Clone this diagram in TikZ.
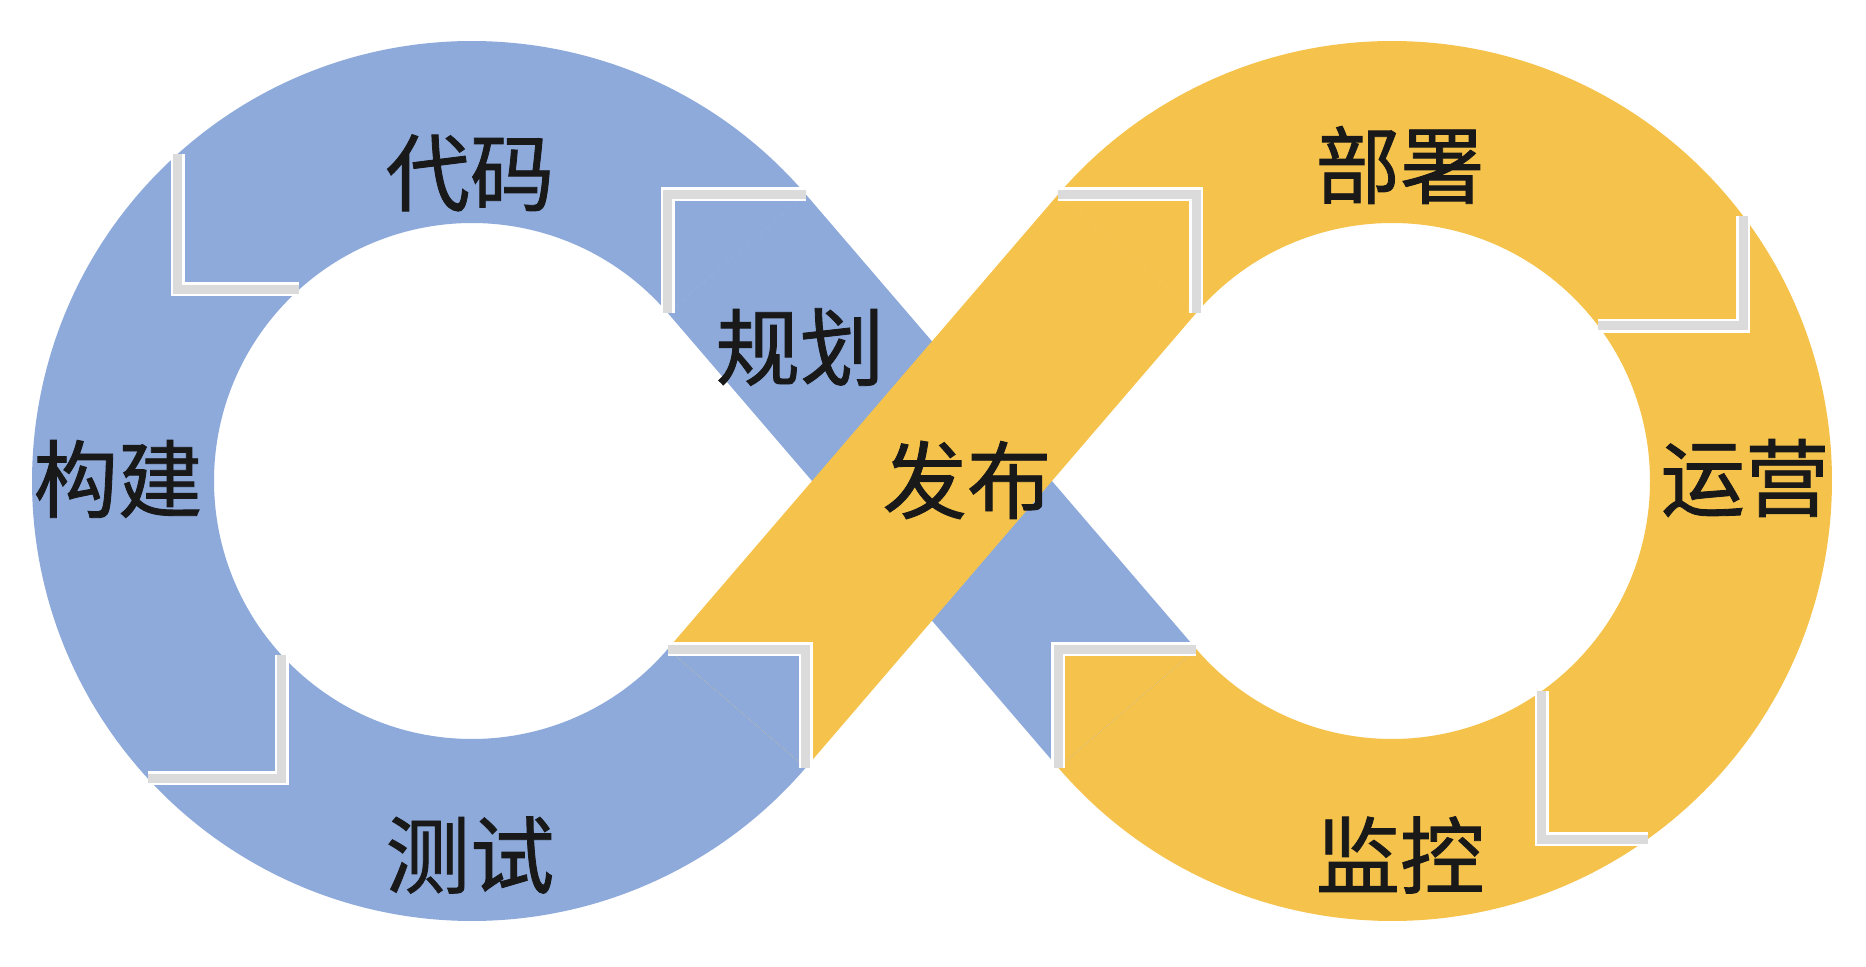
\documentclass[tikz,border=0pt]{standalone}
\usepackage{fontspec}
\newfontfamily\cjk[FakeBold=1]{Noto Sans CJK SC}
\usetikzlibrary{calc}

\definecolor{ringblue}{RGB}{141,170,219}
\definecolor{ringyellow}{RGB}{245,195,76}

\begin{document}
\begin{tikzpicture}[x=0.01cm, y=0.01cm,
		blueseg/.style={fill=ringblue},
		yellowseg/.style={fill=ringyellow},
		joint/.style={draw=white, line width=0.7pt, double=black!14, double distance=2.6pt},
		lbl/.style={font=\cjk\fontsize{24pt}{24pt}\selectfont, text=black!90, inner sep=0pt}]
		\fill[white] (0,0) rectangle (1866,966);
		\useasboundingbox (0,0) rectangle (1866,966);
		\coordinate (L) at (472,485);
		\coordinate (R) at (1392,485);
		\foreach \n/\c/\a in {ja/L/40.66, jb/L/132, jc/L/222.5, jd/L/319.34, je/R/139.34, jf/R/37, jg/R/-54.5, jh/R/220.66}
		{
			\coordinate (\n-i) at ($(\c)+(\a:258)$);
			\coordinate (\n-o) at ($(\c)+(\a:440)$);
		}
		\fill[blueseg] (ja-o) arc[start angle=40.66, end angle=319.34, radius=440] -- (jd-i) arc[start angle=319.34, end angle=40.66, radius=258] -- cycle;
		\fill[yellowseg] (jh-o) arc[start angle=-139.34, end angle=139.34, radius=440] -- (je-i) arc[start angle=139.34, end angle=-139.34, radius=258] -- cycle;
		\fill[blueseg] (ja-i) -- (jh-o) -- (jh-i) -- (ja-o) -- cycle;
		\fill[yellowseg] (jd-i) -- (je-o) -- (je-i) -- (jd-o) -- cycle;
		\foreach \n/\s in {jb/blueseg, jd/blueseg, jf/yellowseg, jh/yellowseg}
		{
			\fill[\s] (\n-i) -- (\n-o |- \n-i) -- (\n-o) -- cycle;
			\draw[joint] (\n-i) -- (\n-o |- \n-i) -- (\n-o);
		}
		\foreach \n/\s in {ja/blueseg, jc/blueseg, je/yellowseg, jg/yellowseg}
		{
			\fill[\s] (\n-i) -- (\n-i |- \n-o) -- (\n-o) -- cycle;
			\draw[joint] (\n-i) -- (\n-i |- \n-o) -- (\n-o);
		}
		\node[lbl] (code) at (470,793) {代码};
		\node[lbl] (build) at (118,487) {构建};
		\node[lbl] (test) at (470,111) {测试};
		\node[lbl] (plan) at (800,619) {规划};
		\node[lbl] (release) at (967,486) {发布};
		\node[lbl] (deploy) at (1400,801) {部署};
		\node[lbl] (operate) at (1745,488) {运营};
		\node[lbl] (monitor) at (1400,111) {监控};
	\end{tikzpicture}
\end{document}
